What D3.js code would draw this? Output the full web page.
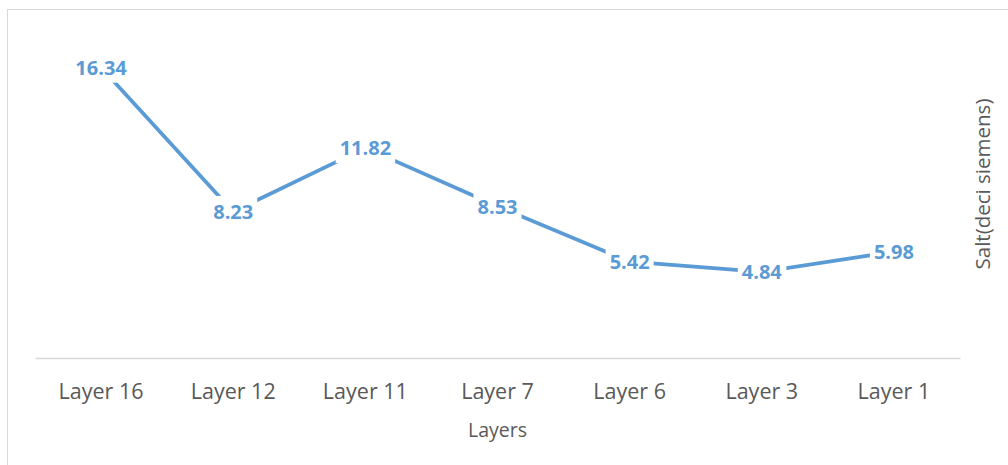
<!DOCTYPE html>
<html>
<head>
<meta charset="utf-8">
<script src="https://cdn.jsdelivr.net/npm/d3@7"></script>
<style>
	body{margin:0;background:#fff;}
	svg{display:block;font-family:"Open Sans",sans-serif;}
</style>
</head>
<body>
<svg id="chart" width="1008" height="465"></svg>
<script>
const categories = ['Layer 16','Layer 12','Layer 11','Layer 7','Layer 6','Layer 3','Layer 1'];
const salt = [16.34, 8.23, 11.82, 8.53, 5.42, 4.84, 5.98];
const yDomain = [0, 18];

const svg = d3.select('#chart');
const width = 1008, height = 465;
const plot = {left:35, right:960, top:38, bottom:358};
const blue = '#5b9bd5';

// chart area border (right and bottom edges sit outside the window)
svg.append('rect')
	.attr('x',7.5).attr('y',9.5)
	.attr('width',width+10).attr('height',height+10)
	.attr('fill','none')
	.attr('stroke','#d9d9d9');

const x = d3.scaleBand()
	.domain(categories)
	.range([plot.left, plot.right]);
const y = d3.scaleLinear()
	.domain(yDomain)
	.range([plot.bottom, plot.top]);

const xAxis = svg.append('g')
	.attr('transform','translate(0,'+plot.bottom+')')
	.call(d3.axisBottom(x).tickSize(0).tickPadding(26));
xAxis.select('.domain')
	.attr('stroke','#d9d9d9')
	.attr('stroke-width',1.5);
xAxis.selectAll('text')
	.attr('fill','#595959')
	.style('font-size','21.5px')
	.style('font-family','"Open Sans",sans-serif');

svg.append('text')
	.attr('x',(plot.left+plot.right)/2)
	.attr('y',437)
	.attr('text-anchor','middle')
	.attr('fill','#595959')
	.style('font-size','19.5px')
	.text('Layers');

svg.append('text')
	.attr('transform','translate(990,'+184+') rotate(-90)')
	.attr('text-anchor','middle')
	.attr('fill','#595959')
	.style('font-size','20.5px')
	.text('Salt(deci siemens)');

const pts = categories.map((c,i)=>({cat:c, value:salt[i]}));
const line = d3.line()
	.x(d=>x(d.cat)+x.bandwidth()/2)
	.y(d=>y(d.value));

svg.append('path')
	.datum(pts)
	.attr('d',line)
	.attr('fill','none')
	.attr('stroke',blue)
	.attr('stroke-width',3.8)
	.attr('stroke-linejoin','round');

const labels = svg.selectAll('g.label')
	.data(pts)
	.join('g')
	.classed('label',true)
	.attr('transform',d=>'translate('+(x(d.cat)+x.bandwidth()/2)+','+y(d.value)+')');

const txt = labels.append('text')
	.attr('text-anchor','middle')
	.attr('dy','0.36em')
	.attr('fill',blue)
	.style('font-size','20px')
	.style('font-weight','bold')
	.text(d=>d.value.toFixed(2));

txt.each(function(){
	const b = this.getBBox();
	d3.select(this.parentNode).insert('rect','text')
		.attr('x',b.x-4).attr('y',b.y-2)
		.attr('width',b.width+8).attr('height',b.height+4)
		.attr('fill','#fff');
});
</script>
</body>
</html>
